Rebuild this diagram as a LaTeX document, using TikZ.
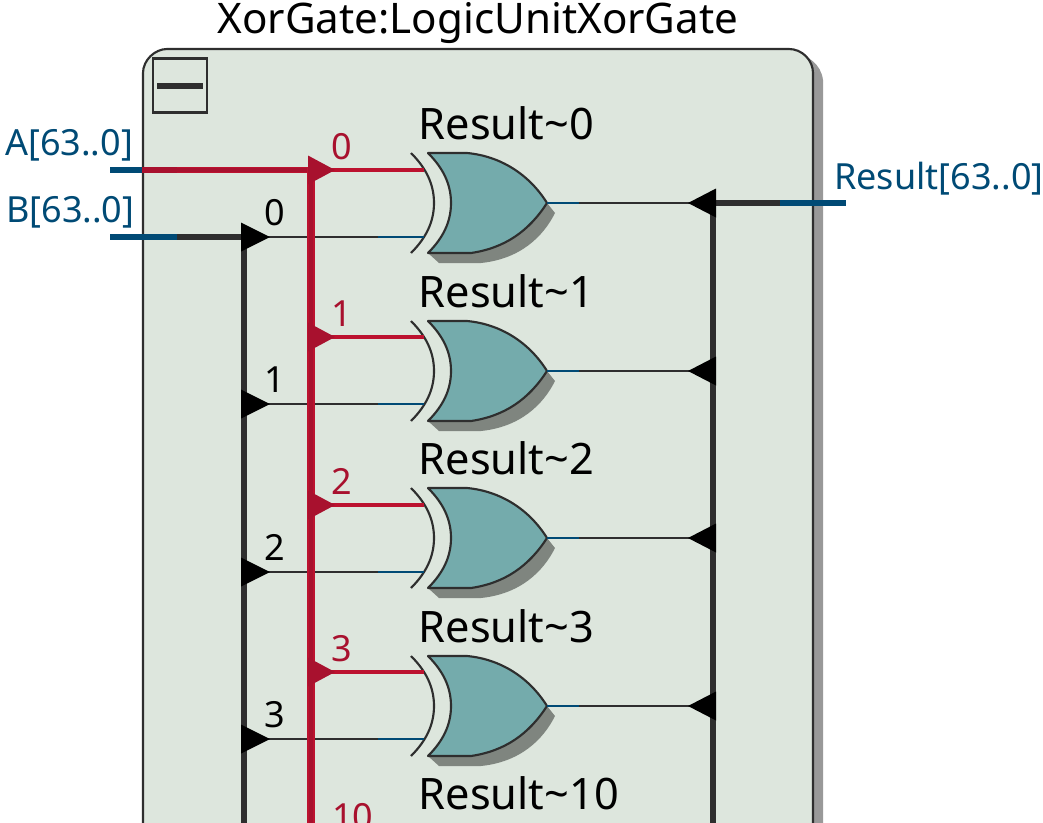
\documentclass[tikz,border=0pt]{standalone}
\usepackage{fontspec}
\setmainfont{Noto Sans}
\definecolor{panel}{HTML}{DDE6DD}
\definecolor{ink}{HTML}{2E2E2E}
\definecolor{wireblue}{HTML}{004A75}
\definecolor{wirered}{HTML}{A8112E}
\definecolor{wirebright}{HTML}{BC122F}
\definecolor{gatefill}{HTML}{74ABAC}
\definecolor{gateshadow}{HTML}{7F857F}
\definecolor{panelshadow}{HTML}{999999}
\newcommand{\tsize}{\fontsize{31.6}{34}\selectfont}
\newcommand{\gsize}{\fontsize{32.5}{35}\selectfont}
\newcommand{\lsize}{\fontsize{27}{30}\selectfont}
\newcommand{\nsize}{\fontsize{27}{30}\selectfont}
\newcommand{\tld}{\char"7E\relax}
\tikzset{
  x=0.75pt,y=-0.75pt,
  thick wire/.style={line width=4.5pt,draw=ink},
  blue wire/.style={line width=4.5pt,draw=wireblue},
  thin wire/.style={line width=1.6pt},
  label text/.style={inner sep=0pt,anchor=base west,font=\lsize,text=wireblue},
  gate text/.style={inner sep=0pt,anchor=base west,font=\gsize},
  num text/.style={inner sep=0pt,anchor=base,font=\nsize},
  outline/.style={draw=ink,line width=1.6pt},
}
\begin{document}
\begin{tikzpicture}[line cap=butt]
\useasboundingbox (0,0) rectangle (1043,822);
% panel
\fill[panelshadow] (780,52) -- (792,52) .. controls (808,55) and (821,64) .. (823,80) -- (823,830) -- (780,830) -- cycle;
\path[fill=panel,outline] (143,830) -- (143,73) .. controls (143,60) and (155,49) .. (167,49) -- (789,49) .. controls (802,49) and (813,60) .. (813,73) -- (813,830) -- cycle;
% collapse button
\node[outline,minimum size=40.5pt,inner sep=0pt] (collapse) at (180,85.5) {};
\fill[ink] (157,83) rectangle (203,89);
% title
\node[inner sep=0pt,anchor=base,font=\tsize] (title) at (478,33.5) {XorGate:LogicUnitXorGate};
% ports
\coordinate (ain) at (110,170); \coordinate (am) at (142,170); \coordinate (ah) at (177,170); \coordinate (abus) at (311,170);
\coordinate (bin) at (110,237); \coordinate (bm) at (177,237); \coordinate (bbus) at (244,237);
\coordinate (rout) at (846,203); \coordinate (rm) at (780,203); \coordinate (rbus) at (713,203);
\coordinate (aend) at (311,830); \coordinate (bend) at (244,830); \coordinate (rend) at (713,830);
\draw[blue wire] (ain) -- (am);
\draw[blue wire] (bin) -- (bm);
\draw[thick wire] (bm) -- (bbus);
\draw[thick wire] (bbus) -- (bend);
\draw[thick wire] (rm) -- (rbus) -- (rend);
\draw[blue wire] (rm) -- (rout);
\node[label text] (alabel) at (5,155.5) {A[63..0]};
\node[label text] (blabel) at (6,222.5) {B[63..0]};
\node[label text] (rlabel) at (834,189.5) {Result[63..0]};
% gates
\foreach \i/\ya/\yb/\yo in {0/170/237/203,1/337/404/371,2/505/572/538,3/672/739/706}{
  \begin{scope}[shift={(0,\yo-203)}]
    \fill[gateshadow] (439,263) -- (481,263) .. controls (520,259) and (543,237) .. (555,213) -- (547,203) -- (428,253) -- cycle;
    \path[fill=gatefill,outline,line join=round] (428,153) -- (467,153) .. controls (500,156) and (529,174) .. (547,203) .. controls (529,231) and (505,248) .. (471,253) -- (428,253) .. controls (443,238) and (451,222) .. (451,203) .. controls (451,184) and (443,168) .. (428,153) -- cycle;
    \draw[outline] (411,153) .. controls (426,168) and (434,184) .. (434,203) .. controls (434,222) and (426,238) .. (411,253);
    \node[gate text] (g\i) at (418.5,139.5) {Result\tld\i};
  \end{scope}
  \coordinate (ga\i) at (424,\ya); \coordinate (gbm\i) at (378,\yb); \coordinate (gb\i) at (424,\yb);
  \coordinate (gao\i) at (311,\ya); \coordinate (gbo\i) at (244,\yb);
  \coordinate (go\i) at (547,\yo); \coordinate (gom\i) at (579,\yo); \coordinate (gor\i) at (713,\yo);
  \draw[ink,thin wire] (gbo\i) -- (gbm\i);
  \draw[wireblue,thin wire] (gbm\i) -- (gb\i);
  \draw[wireblue,thin wire] (go\i) -- (gom\i);
  \draw[ink,thin wire] (gom\i) -- (gor\i);
  \fill[black] (716,\yo-14.5) -- (688,\yo) -- (716,\yo+14.5) -- cycle;
  \fill[black] (241,\yb-14.5) -- (270,\yb) -- (241,\yb+14.5) -- cycle;
  \node[num text] (nb\i) at (275,\yb-12) {\i};
  \node[num text,text=wirered] (na\i) at (342,\ya-11) {\i};
}
% red bus
\draw[wirered,line width=5.2pt] (am) -- (ah);
\draw[wirebright,line width=5.2pt] (ah) -- (abus);
\draw[wirered,line width=2.6pt] (ah) -- (abus);
\draw[wirebright,line width=5.6pt] (abus) ++(0,-3.5) -- (aend);
\draw[wirered,line width=3pt] (abus) ++(0,-3.5) -- (aend);
\foreach \i/\ya in {0/170,1/337,2/505,3/672}{
  \draw[wirebright,line width=2.6pt] (gao\i) -- (ga\i);
  \fill[wirered] (308,\ya-14.5) -- (335,\ya) -- (308,\ya+14.5) -- cycle;
}
% last gate label
\node[gate text] (g4) at (418.5,809) {Result\tld 10};
\node[num text,text=wirered,anchor=base west] (na4) at (332,829) {10};
\end{tikzpicture}
\end{document}
